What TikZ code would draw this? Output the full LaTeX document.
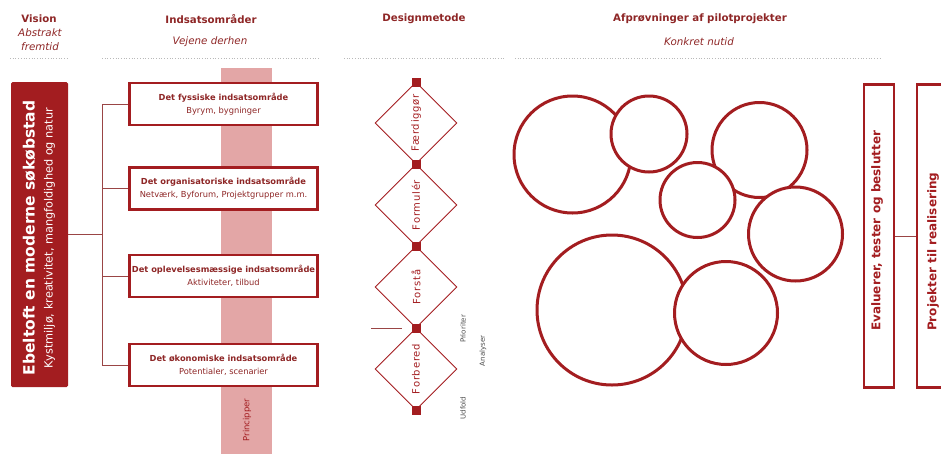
\documentclass[tikz,border=0pt]{standalone}
\usepackage{fontspec}
\setmainfont{DejaVu Sans}
\usetikzlibrary{shapes.geometric}
\definecolor{dred}{HTML}{A31D20}
\definecolor{hred}{HTML}{8E2626}
\definecolor{pinkbar}{HTML}{E3A6A6}
\definecolor{cnc}{HTML}{9A4545}
\begin{document}
\begin{tikzpicture}[x=1pt,y=-1pt,
  head/.style={text=hred, font=\fontsize{10.2}{12}\selectfont\bfseries, inner sep=0},
  subh/.style={text=hred, font=\fontsize{10.3}{12}\selectfont\itshape, inner sep=0},
  dots/.style={draw=gray!55, line width=0.7pt, dotted},
  area/.style={draw=dred, line width=2.7pt, fill=white, minimum width=188pt, minimum height=42pt, inner sep=0, align=center, font=\fontsize{8.3}{10}\selectfont, text=hred},
  cn/.style={draw=cnc, line width=0.9pt},
  sq/.style={fill=dred, minimum size=9pt, inner sep=0},
  dia/.style={diamond, draw=dred, line width=0.9pt, minimum width=82pt, minimum height=82pt, inner sep=0, aspect=1, text=dred, rotate=90, font=\fontsize{10}{12}\selectfont\addfontfeatures{LetterSpace=8}},
  bub/.style={circle, draw=dred, line width=3pt, fill=white, inner sep=0},
  vbox/.style={draw=dred, line width=2.7pt, minimum width=30pt, minimum height=303pt, inner sep=0},
  vtext/.style={rotate=90, anchor=west, inner sep=0, text=dred, font=\fontsize{12}{14}\selectfont\bfseries},
  tiny/.style={rotate=90, inner sep=0, text=black!70, font=\fontsize{7}{8}\selectfont}
]
\useasboundingbox (0,0) rectangle (941,453);

% headers
\node[head] (h1) at (39,19) {Vision};
\node[subh] (h1a) at (40,33) {Abstrakt};
\node[subh] (h1b) at (40,47) {fremtid};
\node[head] (h2) at (211,19) {Indsatsområder};
\node[subh] (h2a) at (210,42) {Vejene derhen};
\node[head] (h3) at (424,19) {Designmetode};
\node[head] (h4) at (700,19) {Afprøvninger af pilotprojekter};
\node[subh] (h4a) at (699,42) {Konkret nutid};
\coordinate (d1a) at (10,58); \coordinate (d1b) at (68,58);
\coordinate (d2a) at (102,58); \coordinate (d2b) at (320,58);
\coordinate (d3a) at (344,58); \coordinate (d3b) at (505,58);
\coordinate (d4a) at (515,58); \coordinate (d4b) at (880,58);
\draw[dots] (d1a) -- (d1b);
\draw[dots] (d2a) -- (d2b);
\draw[dots] (d3a) -- (d3b);
\draw[dots] (d4a) -- (d4b);

% vision box
\node[fill=dred, rounded corners=1.5pt, minimum width=57pt, minimum height=305pt, inner sep=0] (vis) at (39.5,234.5) {};
\node[rotate=90, inner sep=0, text=white, font=\fontsize{15.5}{18}\selectfont\bfseries] (vt1) at (29,238) {Ebeltoft en moderne søkøbstad};
\node[rotate=90, inner sep=0, text=white, font=\fontsize{11.3}{13}\selectfont] (vt2) at (49.5,238) {Kystmiljø, kreativitet, mangfoldighed og natur};

% principles bar
\fill[pinkbar] (221,68) rectangle (272,455);
\node[rotate=90, inner sep=0, text=dred, font=\fontsize{8.5}{10}\selectfont] (pr) at (247,420) {Principper};

% areas
\node[area] (b1) at (223.5,104) {\textbf{Det fyssiske indsatsområde}\\[3pt]Byrym, bygninger};
\node[area] (b2) at (223.5,188.5) {\textbf{Det organisatoriske indsatsområde}\\[3pt]Netværk, Byforum, Projektgrupper m.m.};
\node[area] (b3) at (223.5,276) {\textbf{Det oplevelsesmæssige indsatsområde}\\[3pt]Aktiviteter, tilbud};
\node[area] (b4) at (223.5,365) {\textbf{Det økonomiske indsatsområde}\\[3pt]Potentialer, scenarier};

\coordinate (trunk) at (102,234.5);
\draw[cn] (vis.east) -- (trunk);
\draw[cn] (trunk) |- (b1.west);
\draw[cn] (trunk) |- (b4.west);
\draw[cn] (b2.west) -- (b2.west -| trunk);
\draw[cn] (b3.west) -- (b3.west -| trunk);

% design method
\node[dia] (dm1) at (416,123) {Færdiggør};
\node[dia] (dm2) at (416,205) {Formulér};
\node[dia] (dm3) at (416,287) {Forstå};
\node[dia] (dm4) at (416,369) {Forbered};
\node[sq] (s1) at (416,82) {};
\node[sq] (s2) at (416,164) {};
\node[sq] (s3) at (416,246) {};
\node[sq] (s4) at (416,328) {};
\node[sq] (s5) at (416,410) {};
\coordinate (tk1) at (371,328); \coordinate (tk2) at (402,328);
\draw[draw=cnc, line width=0.8pt] (tk1) -- (tk2);
\node[tiny] (t1) at (463,329) {Prioriter};
\node[tiny] (t2) at (483,351) {Analyser};
\node[tiny] (t3) at (463,408) {Udfold};

% pilot circles
\node[bub, minimum size=117pt] (c1) at (572.5,154.5) {};
\node[bub, minimum size=95pt] (c3) at (759.5,150) {};
\node[bub, minimum size=150pt] (c6) at (612,310) {};
\node[bub, minimum size=76pt] (c2) at (649,134) {};
\node[bub, minimum size=75pt] (c4) at (697.5,200) {};
\node[bub, minimum size=94pt] (c5) at (795.5,234) {};
\node[bub, minimum size=103pt] (c7) at (726,313) {};

% right boxes
\node[vbox] (ev) at (879,236) {};
\node[vbox, minimum width=48pt] (pj) at (941,236) {};
\draw[cn] (ev) -- (pj);
\node[vtext] (evt) at (877,331) {Evaluerer, tester og beslutter};
\node[vtext] (pjt) at (933,331) {Projekter til realisering};
\end{tikzpicture}
\end{document}
